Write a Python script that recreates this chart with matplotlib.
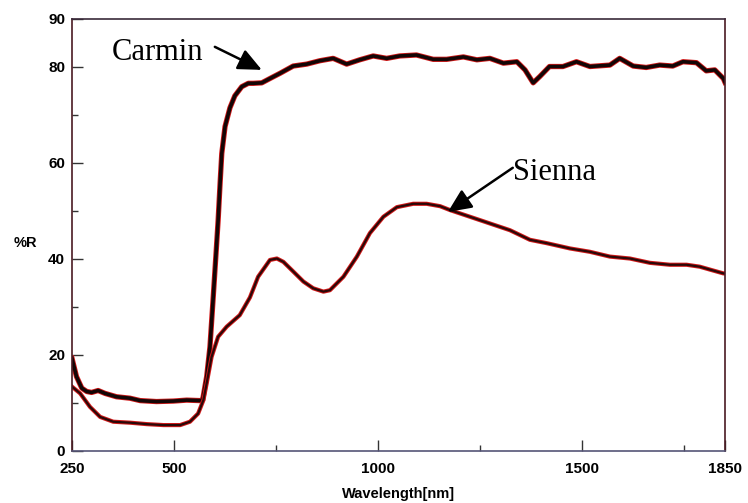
import matplotlib
matplotlib.use("Agg")
import matplotlib.pyplot as plt
import matplotlib.patheffects as pe
from matplotlib.ticker import FixedLocator

carmin_x = [250, 261, 274, 286, 298, 314, 331, 359, 392, 417, 457, 498, 531, 564, 570,
            580, 588, 596, 604, 608, 613, 617, 625, 637, 649, 666, 682, 694, 715, 735,
            760, 792, 825, 857, 890, 923, 955, 988, 1021, 1053, 1094, 1135, 1168, 1209,
            1242, 1274, 1307, 1340, 1360, 1380, 1396, 1420, 1453, 1486, 1519, 1568, 1592,
            1625, 1657, 1690, 1722, 1747, 1780, 1804, 1825, 1846, 1850]
carmin_y = [19.3, 15.5, 13.1, 12.4, 12.2, 12.6, 12.0, 11.3, 11.0, 10.5, 10.3, 10.4, 10.6, 10.5, 10.6,
            15.5, 21.7, 32.0, 42.6, 48.0, 56.0, 62.0, 67.6, 71.5, 74.0, 75.9, 76.6, 76.6, 76.7, 77.6,
            78.7, 80.2, 80.6, 81.3, 81.8, 80.6, 81.5, 82.3, 81.8, 82.3, 82.5, 81.6, 81.6, 82.1,
            81.5, 81.8, 80.8, 81.1, 79.4, 76.7, 78.0, 80.1, 80.1, 81.1, 80.1, 80.4, 81.8,
            80.2, 79.9, 80.4, 80.2, 81.1, 80.9, 79.2, 79.4, 77.6, 76.8]

sienna_x = [250, 270, 294, 319, 351, 392, 433, 474, 515, 539, 559, 572, 580, 592, 608, 629,
            661, 686, 706, 735, 752, 768, 792, 817, 841, 866, 882, 915, 948, 980, 1013, 1046,
            1086, 1119, 1152, 1176, 1225, 1274, 1323, 1372, 1413, 1470, 1519, 1568, 1617,
            1666, 1715, 1756, 1788, 1821, 1846, 1850]
sienna_y = [13.4, 12.0, 9.2, 7.1, 6.1, 5.9, 5.6, 5.4, 5.4, 6.1, 7.8, 10.6, 14.1, 19.6, 23.8, 25.9,
            28.3, 32.0, 36.3, 39.8, 40.1, 39.4, 37.4, 35.3, 33.9, 33.2, 33.5, 36.3, 40.5, 45.4, 48.8, 50.8,
            51.5, 51.5, 51.0, 50.2, 48.8, 47.4, 46.0, 44.0, 43.3, 42.2, 41.5, 40.5, 40.1,
            39.2, 38.8, 38.8, 38.4, 37.6, 37.0, 37.0]

x_ticks = [250, 500, 1000, 1500, 1850]
y_ticks = [0, 20, 40, 60, 80, 90]

fig = plt.figure(figsize=(7.48, 5.03), dpi=100)
ax = fig.add_axes([72/748, 52/503, 653/748, 432/503])

ax.plot(carmin_x, carmin_y, color="#140606", lw=2.6,
        path_effects=[pe.Stroke(linewidth=3.8, foreground="#d01818"), pe.Normal()],
        solid_joinstyle="round")
ax.plot(sienna_x, sienna_y, color="#2a0808", lw=1.6,
        path_effects=[pe.Stroke(linewidth=3.0, foreground="#d01818"), pe.Normal()],
        solid_joinstyle="round")

ax.set_xlim(250, 1850)
ax.set_ylim(0, 90)
ax.xaxis.set_major_locator(FixedLocator(x_ticks))
ax.xaxis.set_minor_locator(FixedLocator([750, 1250, 1750]))
ax.yaxis.set_major_locator(FixedLocator(y_ticks))
ax.yaxis.set_minor_locator(FixedLocator([10, 30, 50, 70]))
ax.tick_params(which="major", direction="in", length=8, width=1, colors="#333333",
               labelcolor="black")
ax.tick_params(which="minor", direction="in", length=4, width=1, colors="#333333")
ax.tick_params(axis="x", which="major", pad=8)
ax.tick_params(axis="y", which="major", pad=5)
for lab in ax.get_xticklabels() + ax.get_yticklabels():
    lab.set_fontfamily("Liberation Sans")
    lab.set_fontweight("bold")
    lab.set_fontsize(11)

ax.spines["left"].set_color("#4a1a22")
ax.spines["right"].set_color("#4a1a22")
ax.spines["top"].set_color("#3a2a3a")
ax.spines["bottom"].set_color("#555577")
for s in ax.spines.values():
    s.set_linewidth(1.2)

ax.set_xlabel("Wavelength[nm]", fontfamily="Liberation Sans", fontweight="bold",
              fontsize=10.5, labelpad=8)
fig.text(25/748, 1 - 243/503, "%R", fontfamily="Liberation Sans", fontweight="bold",
         fontsize=10.5, ha="center", va="center")

arrow = dict(arrowstyle="-|>,head_length=1.1,head_width=0.5", color="black", lw=1.8,
             shrinkA=0, shrinkB=0, mutation_scale=13)
ax.text(348, 83.1, "Carmin", fontfamily="Liberation Serif", fontsize=22, ha="left", va="center")
ax.annotate("", xy=(715, 79.4), xytext=(600, 84.2), arrowprops=arrow)
ax.text(1330, 58.1, "Sienna", fontfamily="Liberation Serif", fontsize=22, ha="left", va="center")
ax.annotate("", xy=(1171, 49.8), xytext=(1330, 59.0), arrowprops=arrow)

fig.savefig("out.png", dpi=100)
